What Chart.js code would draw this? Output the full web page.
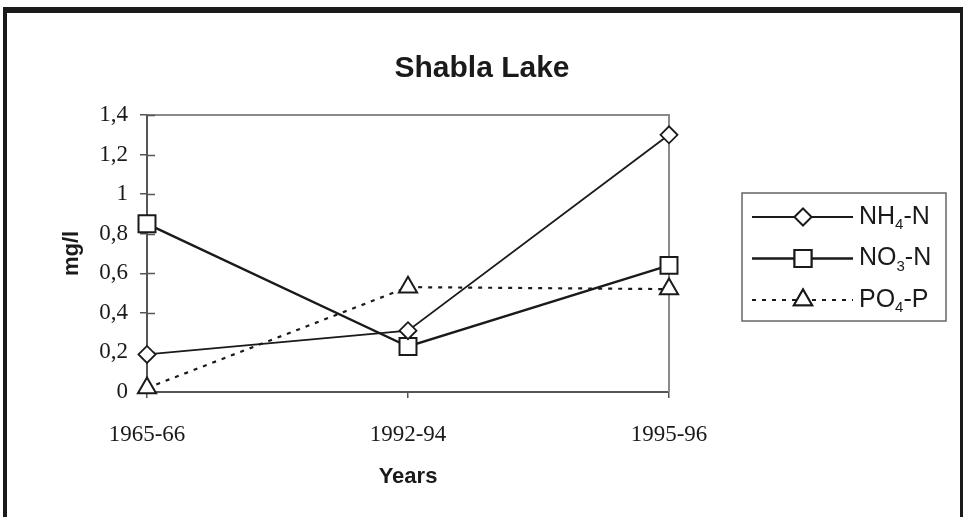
<!DOCTYPE html>
<html>
<head>
<meta charset="utf-8">
<script src="https://cdn.jsdelivr.net/npm/chart.js@4.4.1/dist/chart.umd.min.js"></script>
<style>
  body { margin: 0; background: #fff; }
  canvas { display: block; }
</style>
</head>
<body>
<canvas id="lakechart" width="964" height="517"></canvas>
<script>
// values (mg/l)
const years = ['1965-66', '1992-94', '1995-96'];
const nh4 = [0.19, 0.31, 1.30];
const no3 = [0.85, 0.23, 0.64];
const po4 = [0.02, 0.53, 0.52];
const yTicks = [0, 0.2, 0.4, 0.6, 0.8, 1, 1.2, 1.4];

const INK = '#1a1a1a';
const AXIS = '#555';

// outer frame + light top/right edge of plot
const framePlugin = {
  id: 'frame',
  beforeDatasetsDraw(chart) {
    const ctx = chart.ctx, a = chart.chartArea;
    ctx.save();
    ctx.strokeStyle = '#8a8a8a';
    ctx.lineWidth = 2;
    ctx.beginPath();
    ctx.moveTo(a.left, a.top);
    ctx.lineTo(a.right, a.top);
    ctx.lineTo(a.right, a.bottom);
    ctx.stroke();
    // inner half of the y ticks
    const y = chart.scales.y;
    ctx.strokeStyle = AXIS;
    ctx.lineWidth = 1.5;
    y.ticks.forEach(t => {
      const py = Math.round(y.getPixelForValue(t.value)) + 0.5;
      ctx.beginPath();
      ctx.moveTo(a.left, py);
      ctx.lineTo(a.left + 8, py);
      ctx.stroke();
    });
    ctx.restore();
  },
  afterDraw(chart) {
    const ctx = chart.ctx;
    ctx.save();
    ctx.fillStyle = INK;
    ctx.fillRect(3, 7, 960, 6);
    ctx.fillRect(3, 7, 4, 510);
    ctx.fillRect(960, 7, 3, 510);
    ctx.restore();
  }
};

// legend with line + marker sample, digits after the element written as subscripts
const legendPlugin = {
  id: 'boxLegend',
  afterDraw(chart) {
    const ctx = chart.ctx;
    const box = {x: 742, y: 193, w: 204, h: 128};
    ctx.save();
    ctx.strokeStyle = '#666';
    ctx.lineWidth = 1.5;
    ctx.strokeRect(box.x, box.y, box.w, box.h);
    chart.data.datasets.forEach((ds, i) => {
      const cy = box.y + 24 + i * 41.5;
      ctx.strokeStyle = INK;
      ctx.lineWidth = ds.borderWidth;
      ctx.setLineDash(ds.borderDash || []);
      ctx.beginPath();
      ctx.moveTo(752, cy);
      ctx.lineTo(853, cy);
      ctx.stroke();
      ctx.setLineDash([]);
      ctx.fillStyle = '#fff';
      ctx.lineWidth = ds.pointBorderWidth;
      Chart.helpers.drawPoint(ctx, {pointStyle: ds.pointStyle, radius: ds.pointRadius, borderWidth: ds.pointBorderWidth, rotation: 0}, 803, cy);
      ctx.fill();
      ctx.stroke();
      // text
      ctx.fillStyle = INK;
      ctx.textBaseline = 'middle';
      ctx.textAlign = 'left';
      let x = 859;
      const parts = ds.label.split(/([\u2080-\u2089]+)/);
      parts.forEach(p => {
        if (!p) return;
        if (/[\u2080-\u2089]/.test(p)) {
          const d = p.replace(/[\u2080-\u2089]/g, c => String.fromCharCode(c.charCodeAt(0) - 0x2080 + 48));
          ctx.font = '15px "Liberation Sans", Arial, sans-serif';
          ctx.fillText(d, x, cy + 8);
          x += ctx.measureText(d).width;
        } else {
          ctx.font = '25px "Liberation Sans", Arial, sans-serif';
          ctx.fillText(p, x, cy);
          x += ctx.measureText(p).width;
        }
      });
    });
    ctx.restore();
  }
};

const CHART = document.getElementById('lakechart');

const lakeChart = new Chart(CHART, {
  type: 'line',
  data: {
    labels: years,
    datasets: [{
      label: 'NH\u2084-N',
      data: nh4,
      borderColor: INK,
      borderWidth: 1.8,
      pointStyle: 'rectRot',
      pointRadius: 8.5,
      pointBorderWidth: 1.8,
      pointBackgroundColor: '#fff',
      pointBorderColor: INK,
      lineTension: 0,
      clip: false
    }, {
      label: 'NO\u2083-N',
      data: no3,
      borderColor: INK,
      borderWidth: 2.4,
      pointStyle: 'rect',
      pointRadius: 12,
      pointBorderWidth: 2,
      pointBackgroundColor: '#fff',
      pointBorderColor: INK,
      lineTension: 0,
      clip: false
    }, {
      label: 'PO\u2084-P',
      data: po4,
      borderColor: INK,
      borderWidth: 2.2,
      borderDash: [4, 6],
      pointStyle: 'triangle',
      pointRadius: 10.5,
      pointBorderWidth: 2,
      pointBackgroundColor: '#fff',
      pointBorderColor: INK,
      lineTension: 0,
      clip: false
    }]
  },
  options: {
    responsive: false,
    animation: false,
    devicePixelRatio: 1,
    layout: { padding: 0 },
    plugins: {
      legend: { display: false },
      tooltip: { enabled: false },
      title: {
        display: true,
        text: 'Shabla Lake',
        color: INK,
        font: { family: '"Liberation Sans", Arial, sans-serif', size: 30, weight: 'bold' },
        padding: { top: 51, bottom: 28 }
      }
    },
    scales: {
      x: {
        type: 'category',
        offset: false,
        border: { color: AXIS, width: 2 },
        grid: { drawOnChartArea: false, color: AXIS, tickLength: 6, lineWidth: 1.5 },
        ticks: {
          color: INK,
          padding: 23,
          maxRotation: 0,
          font: { family: '"Liberation Serif", "Times New Roman", serif', size: 23 }
        },
        title: {
          display: true,
          text: 'Years',
          color: INK,
          font: { family: '"Liberation Sans", Arial, sans-serif', size: 22, weight: 'bold' },
          padding: { top: 0, bottom: 27 }
        },
        afterFit(s) { s.height = 125; }
      },
      y: {
        min: 0,
        max: 1.4,
        afterBuildTicks(s) { s.ticks = yTicks.map(v => ({ value: v })); },
        border: { color: AXIS, width: 2 },
        grid: { drawOnChartArea: false, color: AXIS, tickLength: 7, lineWidth: 1.5 },
        ticks: {
          color: INK,
          padding: 12,
          font: { family: '"Liberation Serif", "Times New Roman", serif', size: 23 },
          callback: v => String(+v.toFixed(1)).replace('.', ',')
        },
        title: {
          display: true,
          text: 'mg/l',
          color: INK,
          font: { family: '"Liberation Sans", Arial, sans-serif', size: 22, weight: 'bold' },
          padding: { top: 59, bottom: 0 }
        },
        afterFit(s) { s.width = 147; }
      },
      side: {
        type: 'linear',
        position: 'right',
        display: true,
        ticks: { display: false },
        grid: { display: false },
        border: { display: false },
        afterFit(s) { s.width = 295; }
      }
    }
  },
  plugins: [framePlugin, legendPlugin]
});
</script>
</body>
</html>
